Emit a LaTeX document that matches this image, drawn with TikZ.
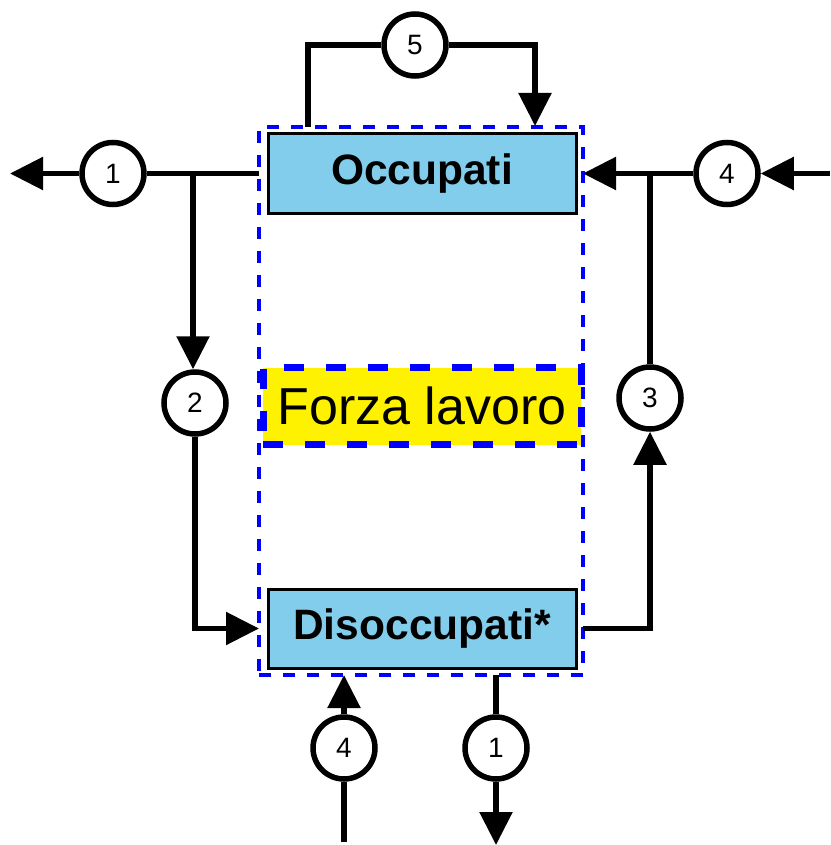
\documentclass[tikz,border=0pt]{standalone}
\usepackage{fontspec}
\setmainfont{Liberation Sans}
\usetikzlibrary{arrows.meta}
\definecolor{boxblue}{RGB}{130,205,236}
\definecolor{dashblue}{RGB}{0,0,255}
\begin{document}
\begin{tikzpicture}[x=1pt,y=-1pt,
  flow/.style={line width=5.5pt},
  arr/.style={flow,-{Triangle[length=33pt,width=32pt]}},
  num/.style={circle,draw,line width=5.5pt,fill=white,minimum size=62pt,inner sep=0pt,font=\fontsize{28}{28}\selectfont},
  stockbox/.style={draw,line width=3pt,fill=boxblue,minimum width=308pt,minimum height=79pt,inner sep=0pt,font=\fontsize{42.5}{42.5}\selectfont\bfseries},
]
\useasboundingbox (0,0) rectangle (830,845);
% outer dashed
\node[draw=dashblue,line width=4.5pt,dash pattern=on 12pt off 12pt,minimum width=324pt,minimum height=548pt,inner sep=0pt,outer sep=0pt] (outer) at (421,401) {};
\node[stockbox] (occ) at (422,173.5) {Occupati};
\node[stockbox] (dis) at (422,628.5) {Disoccupati*};
\node[draw=dashblue,fill=yellow,line width=7pt,dash pattern=on 20pt off 22pt,minimum width=318pt,minimum height=77pt,inner sep=0pt,font=\fontsize{52}{52}\selectfont] (fl) at (422,406) {Forza lavoro};
% circles
\node[num] (c1a) at (113,173.5) {1};
\node[num] (c5) at (415,45) {5};
\node[num] (c4a) at (727,173.5) {4};
\node[num] (c2) at (195,403) {2};
\node[num] (c3) at (650,398) {3};
\node[num] (c4b) at (344,748) {4};
\node[num] (c1b) at (496,748) {1};
% coordinates
\coordinate (tipL) at (10,173.5);
\coordinate (j1) at (193,173.5);
\coordinate (j4) at (650,173.5);
\coordinate (tipR) at (830,173.5);
\coordinate (s5) at (308,127);
\coordinate (e5) at (535,126);
\coordinate (b4) at (344,842);
\coordinate (b1) at (496,845);
% connectors
\draw[flow] (outer.west |- occ.west) -- (c1a.east);
\draw[arr] (c1a.west) -- (tipL);
\draw[arr] (j1) -- (j1 |- c2.north);
\draw[arr] (c2.south) |- (outer.west |- dis.west);
\draw[arr] (outer.east |- dis.east) -| (c3.south);
\draw[flow] (c3.north) -- (j4);
\draw[arr] (c4a.west) -- (outer.east |- occ.east);
\draw[arr] (tipR) -- (c4a.east);
\draw[flow] (s5) |- (c5.west);
\draw[arr] (c5.east) -| (e5);
\draw[flow] (b4) -- (c4b.south);
\draw[arr] (c4b.north) -- (outer.south -| c4b.north);
\draw[flow] (outer.south -| c1b.north) -- (c1b.north);
\draw[arr] (c1b.south) -- (b1);
\end{tikzpicture}
\end{document}
